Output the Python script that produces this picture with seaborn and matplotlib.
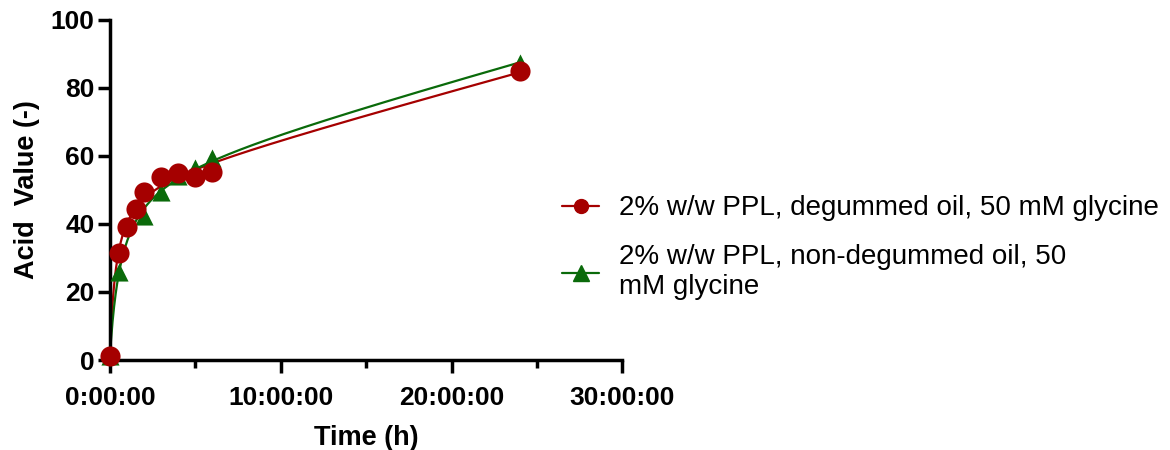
import numpy as np
import pandas as pd
import matplotlib
matplotlib.use("Agg")
import matplotlib.pyplot as plt
import seaborn as sns
from matplotlib.lines import Line2D
from matplotlib.ticker import MultipleLocator, FuncFormatter

# Data (time in hours, acid value)
time_degummed = [0, 0.5, 1, 1.5, 2, 3, 4, 5, 6, 24]
av_degummed = [1.3, 31.4, 39.0, 44.3, 49.5, 53.7, 54.9, 53.9, 55.3, 85.0]
time_nondegummed = [0, 0.5, 2, 3, 4, 5, 6, 24]
av_nondegummed = [1.3, 26.0, 42.2, 49.5, 54.0, 56.5, 59.3, 87.3]
labels = ["2% w/w PPL, degummed oil, 50 mM glycine",
          "2% w/w PPL, non-degummed oil, 50\nmM glycine"]
colors = ["#A50000", "#0A6A0A"]
markers = ["o", "^"]
x_ticks = [0, 10, 20, 30]
y_ticks = [0, 20, 40, 60, 80, 100]


def hyperbola_linear_fit(t, y):
    """Fit y = y0 + Bmax*t/(K+t) + m*t with y0 fixed at the first observation."""
    t = np.asarray(t, float)
    y = np.asarray(y, float)
    y0 = y[0]
    best = None
    for K in np.logspace(-3, 1.5, 600):
        A = np.column_stack([t / (K + t), t])
        coef, *_ = np.linalg.lstsq(A, y - y0, rcond=None)
        err = np.sum((A @ coef - (y - y0)) ** 2)
        if best is None or err < best[0]:
            best = (err, K, coef)
    _, K, (bmax, m) = best
    tt = np.linspace(0, t.max(), 800)
    return tt, y0 + bmax * tt / (K + tt) + m * tt


sns.set_theme(style="ticks")
plt.rcParams['font.family'] = ['Liberation Sans', 'DejaVu Sans']
plt.rcParams['text.color'] = 'black'
plt.rcParams['axes.labelcolor'] = 'black'

fig = plt.figure(figsize=(11.7, 4.5), dpi=100)
ax = fig.add_axes([0.094, 0.2, 0.438, 0.756])

series = [(time_degummed, av_degummed), (time_nondegummed, av_nondegummed)]
for (t, y), c in zip(series, colors):
    tt, yy = hyperbola_linear_fit(t, y)
    sns.lineplot(x=tt, y=yy, ax=ax, color=c, linewidth=1.6, legend=False)
for (t, y), c, m in zip(series[::-1], colors[::-1], markers[::-1]):
    df = pd.DataFrame({"t": t, "y": y})
    sns.scatterplot(data=df, x="t", y="y", ax=ax, color=c, marker=m,
                    s=210 if m == "o" else 170, edgecolor=c, linewidth=0,
                    legend=False, zorder=3, clip_on=False)

handles = [Line2D([0], [0], color=c, marker=m, markersize=10 if m == "o" else 11,
                  linewidth=1.6, label=lab)
           for lab, c, m in zip(labels, colors, markers)]

ax.set_xlim(0, 30)
ax.set_ylim(0, 100)
ax.set_xticks(x_ticks)
ax.xaxis.set_minor_locator(MultipleLocator(5))
ax.xaxis.set_major_formatter(FuncFormatter(lambda v, p: f"{int(v)}:00:00"))
ax.set_yticks(y_ticks)

for s in ["top", "right"]:
    ax.spines[s].set_visible(False)
for s in ["left", "bottom"]:
    ax.spines[s].set_linewidth(2.5)
    ax.spines[s].set_color("black")
ax.tick_params(axis="both", which="major", length=9, width=2.5, colors="black",
               labelsize=19)
ax.tick_params(axis="x", which="major", pad=9.5)
ax.tick_params(axis="y", which="major", pad=2)
ax.tick_params(axis="x", which="minor", length=6, width=2.5, colors="black")
for lbl in ax.get_xticklabels() + ax.get_yticklabels():
    lbl.set_fontweight("bold")

ax.set_xlabel("Time (h)", fontsize=19.5, fontweight="bold", labelpad=11)
ax.set_ylabel("Acid  Value (-)", fontsize=19.5, fontweight="bold", labelpad=7.5)
ax.grid(False)

fig.legend(handles=handles, loc="center left", bbox_to_anchor=(0.4805, 0.449),
           frameon=False, fontsize=20, handlelength=1.33, handletextpad=0.72,
           labelspacing=0.83, borderaxespad=0, borderpad=0)

fig.savefig("out.png", dpi=100)
